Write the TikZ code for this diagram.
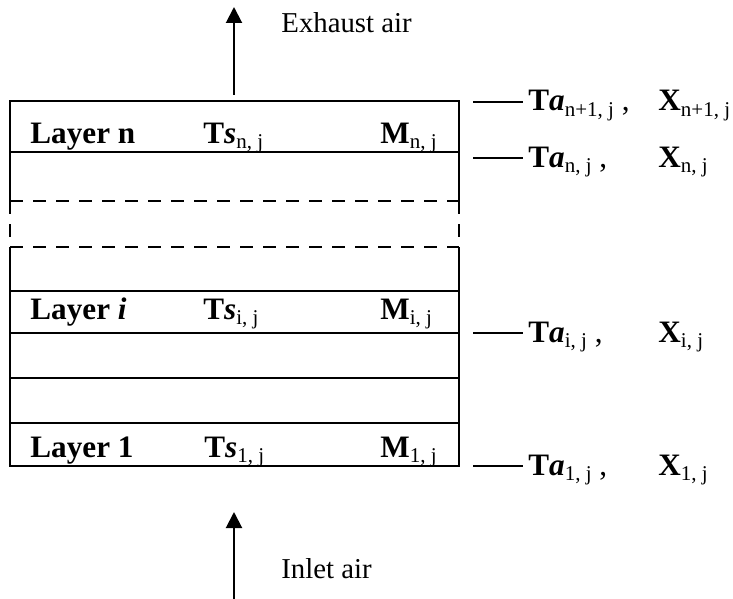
\documentclass[tikz,border=0pt]{standalone}
\usepackage{fontspec}
\setmainfont{Liberation Serif}
\usetikzlibrary{arrows.meta}
\newcommand{\sbs}[1]{\raisebox{-0.35ex}{\fontsize{10.5}{12}\selectfont\mdseries\upshape #1}}
\newcommand{\bi}[1]{\textbf{\textit{#1}}}
\begin{document}
\begin{tikzpicture}[x=0.5pt,y=-0.5pt,
  box/.style={line width=1pt},
  dsh/.style={line width=1pt, dash pattern=on 6.5pt off 5pt},
  lbl/.style={font=\fontsize{15.6}{18}\selectfont\bfseries, inner sep=0pt, anchor=base west},
  air/.style={font=\fontsize{14.4}{17}\selectfont, inner sep=0pt, anchor=base west},
  flow/.style={line width=1pt, -{Triangle[length=8pt,width=8pt]}},
  tick/.style={line width=1pt}]
\useasboundingbox (0,0) rectangle (733,599);
% box outline
\coordinate (tl) at (10,101);
\coordinate (tr) at (459,101);
\coordinate (bl) at (10,466);
\coordinate (br) at (459,466);
\coordinate (ld1) at (10,201);
\coordinate (ld2) at (10,247);
\coordinate (rd1) at (459,201);
\coordinate (rd2) at (459,247);
\draw[box] (ld1) -- (tl) -- (tr) -- (rd1);
\draw[box] (ld2) -- (bl) -- (br) -- (rd2);
\draw[dsh] (ld1) -- (ld2);
\draw[dsh] (rd1) -- (rd2);
% inner lines
\foreach \y/\n in {152/a,291/b,333/c,378/d,423/e}{
  \coordinate (L\n) at (10,\y);
  \coordinate (R\n) at (459,\y);
  \draw[box] (L\n) -- (R\n);
}
\draw[dsh] (ld1) -- (rd1);
\draw[dsh] (ld2) -- (rd2);
% layer labels
\node[lbl] (ln) at (30,143) {Layer n};
\node[lbl] (tsn) at (203,143) {T\bi{s}\sbs{n, j}};
\node[lbl] (mn) at (380,143) {M\sbs{n, j}};
\node[lbl] (li) at (30,319) {Layer \textit{i}};
\node[lbl] (tsi) at (203,319) {T\bi{s}\sbs{i, j}};
\node[lbl] (mi) at (380,319) {M\sbs{i, j}};
\node[lbl] (l1) at (30,457) {Layer 1};
\node[lbl] (ts1) at (204,457) {T\bi{s}\sbs{1, j}};
\node[lbl] (m1) at (380,457) {M\sbs{1, j}};
% right labels
\foreach \y/\s/\n in {102/{n+1, j}/a,158/{n, j}/b,333/{i, j}/c,466/{1, j}/d}{
  \coordinate (s\n) at (473,\y);
  \coordinate (e\n) at (523,\y);
  \draw[tick] (s\n) -- (e\n);
  \node[lbl] (ta\n) at (528,\y+9) {T\bi{a}\sbs{\s}\mdseries\ ,};
  \node[lbl] (x\n) at (658,\y+9) {X\sbs{\s}};
}
% air flow
\coordinate (exS) at (234,95);
\coordinate (exE) at (234,7);
\draw[flow] (exS) -- (exE);
\node[air] (ex) at (281,33) {Exhaust air};
\coordinate (inS) at (234,602);
\coordinate (inE) at (234,512);
\draw[flow] (inS) -- (inE);
\node[air] (in) at (281,578) {Inlet air};
\end{tikzpicture}
\end{document}
